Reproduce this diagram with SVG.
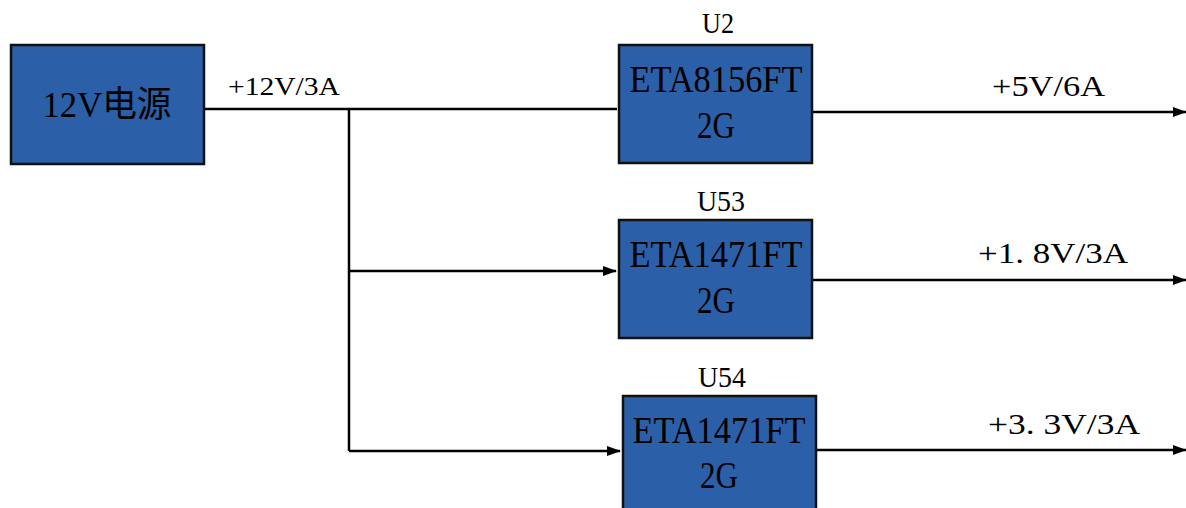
<svg xmlns="http://www.w3.org/2000/svg" width="1186" height="508" viewBox="0 0 1186 508">
<style>
.box{fill:#2b5fa7;stroke:#111;stroke-width:2.5}
.t{font-family:"Liberation Serif","Noto Sans CJK SC",serif;fill:#000}
.c{stroke:#000;stroke-width:2.5;fill:none}
</style>
<defs>
<marker id="ah" markerWidth="14" markerHeight="10" refX="13" refY="5" orient="auto" markerUnits="userSpaceOnUse">
<path d="M0,0 L14,5 L0,10 Z" fill="#000"/>
</marker>
</defs>
<g id="connectors">
<path class="c" d="M204,109 H617"/>
<path class="c" d="M349,109 V451"/>
<path class="c" d="M349,271 H616" marker-end="url(#ah)"/>
<path class="c" d="M349,451 H620" marker-end="url(#ah)"/>
<path class="c" d="M812,112 H1186" marker-end="url(#ah)"/>
<path class="c" d="M812,280 H1186" marker-end="url(#ah)"/>
<path class="c" d="M816,450 H1186" marker-end="url(#ah)"/>
<text class="t" x="228" y="95" font-size="26" textLength="112" lengthAdjust="spacingAndGlyphs">+12V/3A</text>
<text class="t" x="992" y="96" font-size="30" textLength="113" lengthAdjust="spacingAndGlyphs">+5V/6A</text>
<text class="t" x="978" y="263" font-size="30" textLength="150" lengthAdjust="spacingAndGlyphs">+1. 8V/3A</text>
<text class="t" x="988" y="434" font-size="30" textLength="152" lengthAdjust="spacingAndGlyphs">+3. 3V/3A</text>
</g>
<g id="power">
<rect class="box" x="11" y="45" width="193" height="119"/>
<text class="t" x="107" y="117" font-size="36" text-anchor="middle" textLength="129" lengthAdjust="spacingAndGlyphs">12V电源</text>
</g>
<g id="u2">
<text class="t" x="718" y="33" font-size="29" text-anchor="middle" textLength="32" lengthAdjust="spacingAndGlyphs">U2</text>
<rect class="box" x="619" y="45" width="193" height="118"/>
<text class="t" x="716" y="92" font-size="38" text-anchor="middle" textLength="173" lengthAdjust="spacingAndGlyphs">ETA8156FT</text>
<text class="t" x="716" y="138" font-size="38" text-anchor="middle" textLength="38" lengthAdjust="spacingAndGlyphs">2G</text>
</g>
<g id="u53">
<text class="t" x="721" y="211" font-size="29" text-anchor="middle" textLength="48" lengthAdjust="spacingAndGlyphs">U53</text>
<rect class="box" x="619" y="220" width="193" height="118"/>
<text class="t" x="716" y="267" font-size="38" text-anchor="middle" textLength="173" lengthAdjust="spacingAndGlyphs">ETA1471FT</text>
<text class="t" x="716" y="313" font-size="38" text-anchor="middle" textLength="38" lengthAdjust="spacingAndGlyphs">2G</text>
</g>
<g id="u54">
<text class="t" x="722" y="387" font-size="29" text-anchor="middle" textLength="48" lengthAdjust="spacingAndGlyphs">U54</text>
<rect class="box" x="623" y="396" width="193" height="125"/>
<text class="t" x="719" y="443" font-size="38" text-anchor="middle" textLength="173" lengthAdjust="spacingAndGlyphs">ETA1471FT</text>
<text class="t" x="719" y="488" font-size="38" text-anchor="middle" textLength="38" lengthAdjust="spacingAndGlyphs">2G</text>
</g>
</svg>
